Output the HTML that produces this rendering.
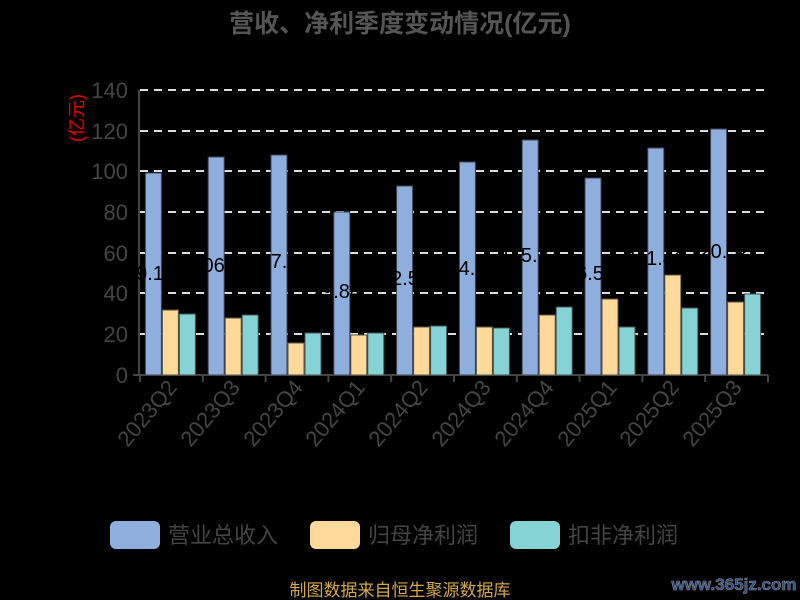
<!DOCTYPE html>
<html><head><meta charset="utf-8"><style>
html,body{margin:0;padding:0;background:#000;}
svg{display:block;font-family:"Liberation Sans","Noto Sans CJK SC",sans-serif;}
</style></head><body>
<svg width="800" height="600" viewBox="0 0 800 600" xmlns="http://www.w3.org/2000/svg">
<rect width="800" height="600" fill="#000"/>
<text x="400" y="32" text-anchor="middle" font-size="25" font-weight="bold" fill="#555">营收、净利季度变动情况(亿元)</text>
<g stroke="#ddd" stroke-width="2" stroke-dasharray="8,6">
<line x1="140" y1="90" x2="768" y2="90"/><line x1="140" y1="131" x2="768" y2="131"/><line x1="140" y1="171" x2="768" y2="171"/><line x1="140" y1="212" x2="768" y2="212"/><line x1="140" y1="253" x2="768" y2="253"/><line x1="140" y1="293" x2="768" y2="293"/><line x1="140" y1="334" x2="768" y2="334"/>
</g>
<g font-size="22" fill="#444" text-anchor="end">
<text x="128" y="98">140</text><text x="128" y="139">120</text><text x="128" y="179">100</text><text x="128" y="220">80</text><text x="128" y="261">60</text><text x="128" y="301">40</text><text x="128" y="342">20</text><text x="128" y="383">0</text>
</g>
<text transform="translate(83,118) rotate(-90)" text-anchor="middle" font-size="18" fill="#e00">(亿元)</text>
<g stroke="#444" stroke-width="2">
<line x1="139" y1="90" x2="139" y2="376"/><line x1="133" y1="375" x2="768" y2="375"/>
<line x1="140" y1="375" x2="140" y2="382"/><line x1="202.8" y1="375" x2="202.8" y2="382"/><line x1="265.6" y1="375" x2="265.6" y2="382"/><line x1="328.4" y1="375" x2="328.4" y2="382"/><line x1="391.2" y1="375" x2="391.2" y2="382"/><line x1="454" y1="375" x2="454" y2="382"/><line x1="516.8" y1="375" x2="516.8" y2="382"/><line x1="579.6" y1="375" x2="579.6" y2="382"/><line x1="642.4" y1="375" x2="642.4" y2="382"/><line x1="705.2" y1="375" x2="705.2" y2="382"/><line x1="768" y1="375" x2="768" y2="382"/>
</g>
<g fill="#8eaedd" stroke="#445" stroke-width="1">
<rect x="145.4" y="173" width="16" height="202"/><rect x="208.2" y="157" width="16" height="218"/><rect x="271" y="155" width="16" height="220"/><rect x="333.8" y="212" width="16" height="163"/><rect x="396.6" y="186" width="16" height="189"/><rect x="459.4" y="162" width="16" height="213"/><rect x="522.2" y="140" width="16" height="235"/><rect x="585" y="178" width="16" height="197"/><rect x="647.8" y="148" width="16" height="227"/><rect x="710.6" y="129" width="16" height="246"/>
</g>
<g fill="#ffd99a" stroke="#554" stroke-width="1">
<rect x="162.4" y="310" width="16" height="65"/><rect x="225.2" y="318" width="16" height="57"/><rect x="288" y="343" width="16" height="32"/><rect x="350.8" y="335" width="16" height="40"/><rect x="413.6" y="327" width="16" height="48"/><rect x="476.4" y="327" width="16" height="48"/><rect x="539.2" y="315" width="16" height="60"/><rect x="602" y="299" width="16" height="76"/><rect x="664.8" y="275" width="16" height="100"/><rect x="727.6" y="302" width="16" height="73"/>
</g>
<g fill="#86d3d6" stroke="#455" stroke-width="1">
<rect x="179.4" y="314" width="16" height="61"/><rect x="242.2" y="315" width="16" height="60"/><rect x="305" y="333" width="16" height="42"/><rect x="367.8" y="333" width="16" height="42"/><rect x="430.6" y="326" width="16" height="49"/><rect x="493.4" y="328" width="16" height="47"/><rect x="556.2" y="307" width="16" height="68"/><rect x="619" y="327" width="16" height="48"/><rect x="681.8" y="308" width="16" height="67"/><rect x="744.6" y="294" width="16" height="81"/>
</g>
<g font-size="20" fill="#000" text-anchor="middle">
<text x="150" y="280">99.10</text><text x="222" y="272">106.92</text><text x="279" y="268">107.97</text><text x="336" y="298">79.84</text><text x="405" y="285">92.56</text><text x="467" y="275">104.67</text><text x="530" y="262">115.31</text><text x="590" y="280">96.51</text><text x="656" y="265">111.41</text><text x="719" y="258">120.52</text>
</g>
<g font-size="22" fill="#444" text-anchor="end">
<text transform="translate(178,388) rotate(-50)">2023Q2</text><text transform="translate(241,388) rotate(-50)">2023Q3</text><text transform="translate(304,388) rotate(-50)">2023Q4</text><text transform="translate(366,388) rotate(-50)">2024Q1</text><text transform="translate(429,388) rotate(-50)">2024Q2</text><text transform="translate(492,388) rotate(-50)">2024Q3</text><text transform="translate(555,388) rotate(-50)">2024Q4</text><text transform="translate(618,388) rotate(-50)">2025Q1</text><text transform="translate(680,388) rotate(-50)">2025Q2</text><text transform="translate(743,388) rotate(-50)">2025Q3</text>
</g>
<g font-size="22" fill="#444">
<rect x="110" y="521" width="50" height="28" rx="6" fill="#8eaedd"/><text x="168" y="543">营业总收入</text>
<rect x="310" y="521" width="50" height="28" rx="6" fill="#ffd99a"/><text x="368" y="543">归母净利润</text>
<rect x="510" y="521" width="50" height="28" rx="6" fill="#86d3d6"/><text x="568" y="543">扣非净利润</text>
</g>
<text x="400" y="596" text-anchor="middle" font-size="17" fill="#d4a84a">制图数据来自恒生聚源数据库</text>
<text x="734" y="590" text-anchor="middle" font-size="17" font-weight="bold" fill="#2a4d8a" stroke="#888" stroke-width="0.6">www.365jz.com</text>
</svg>
</body></html>
